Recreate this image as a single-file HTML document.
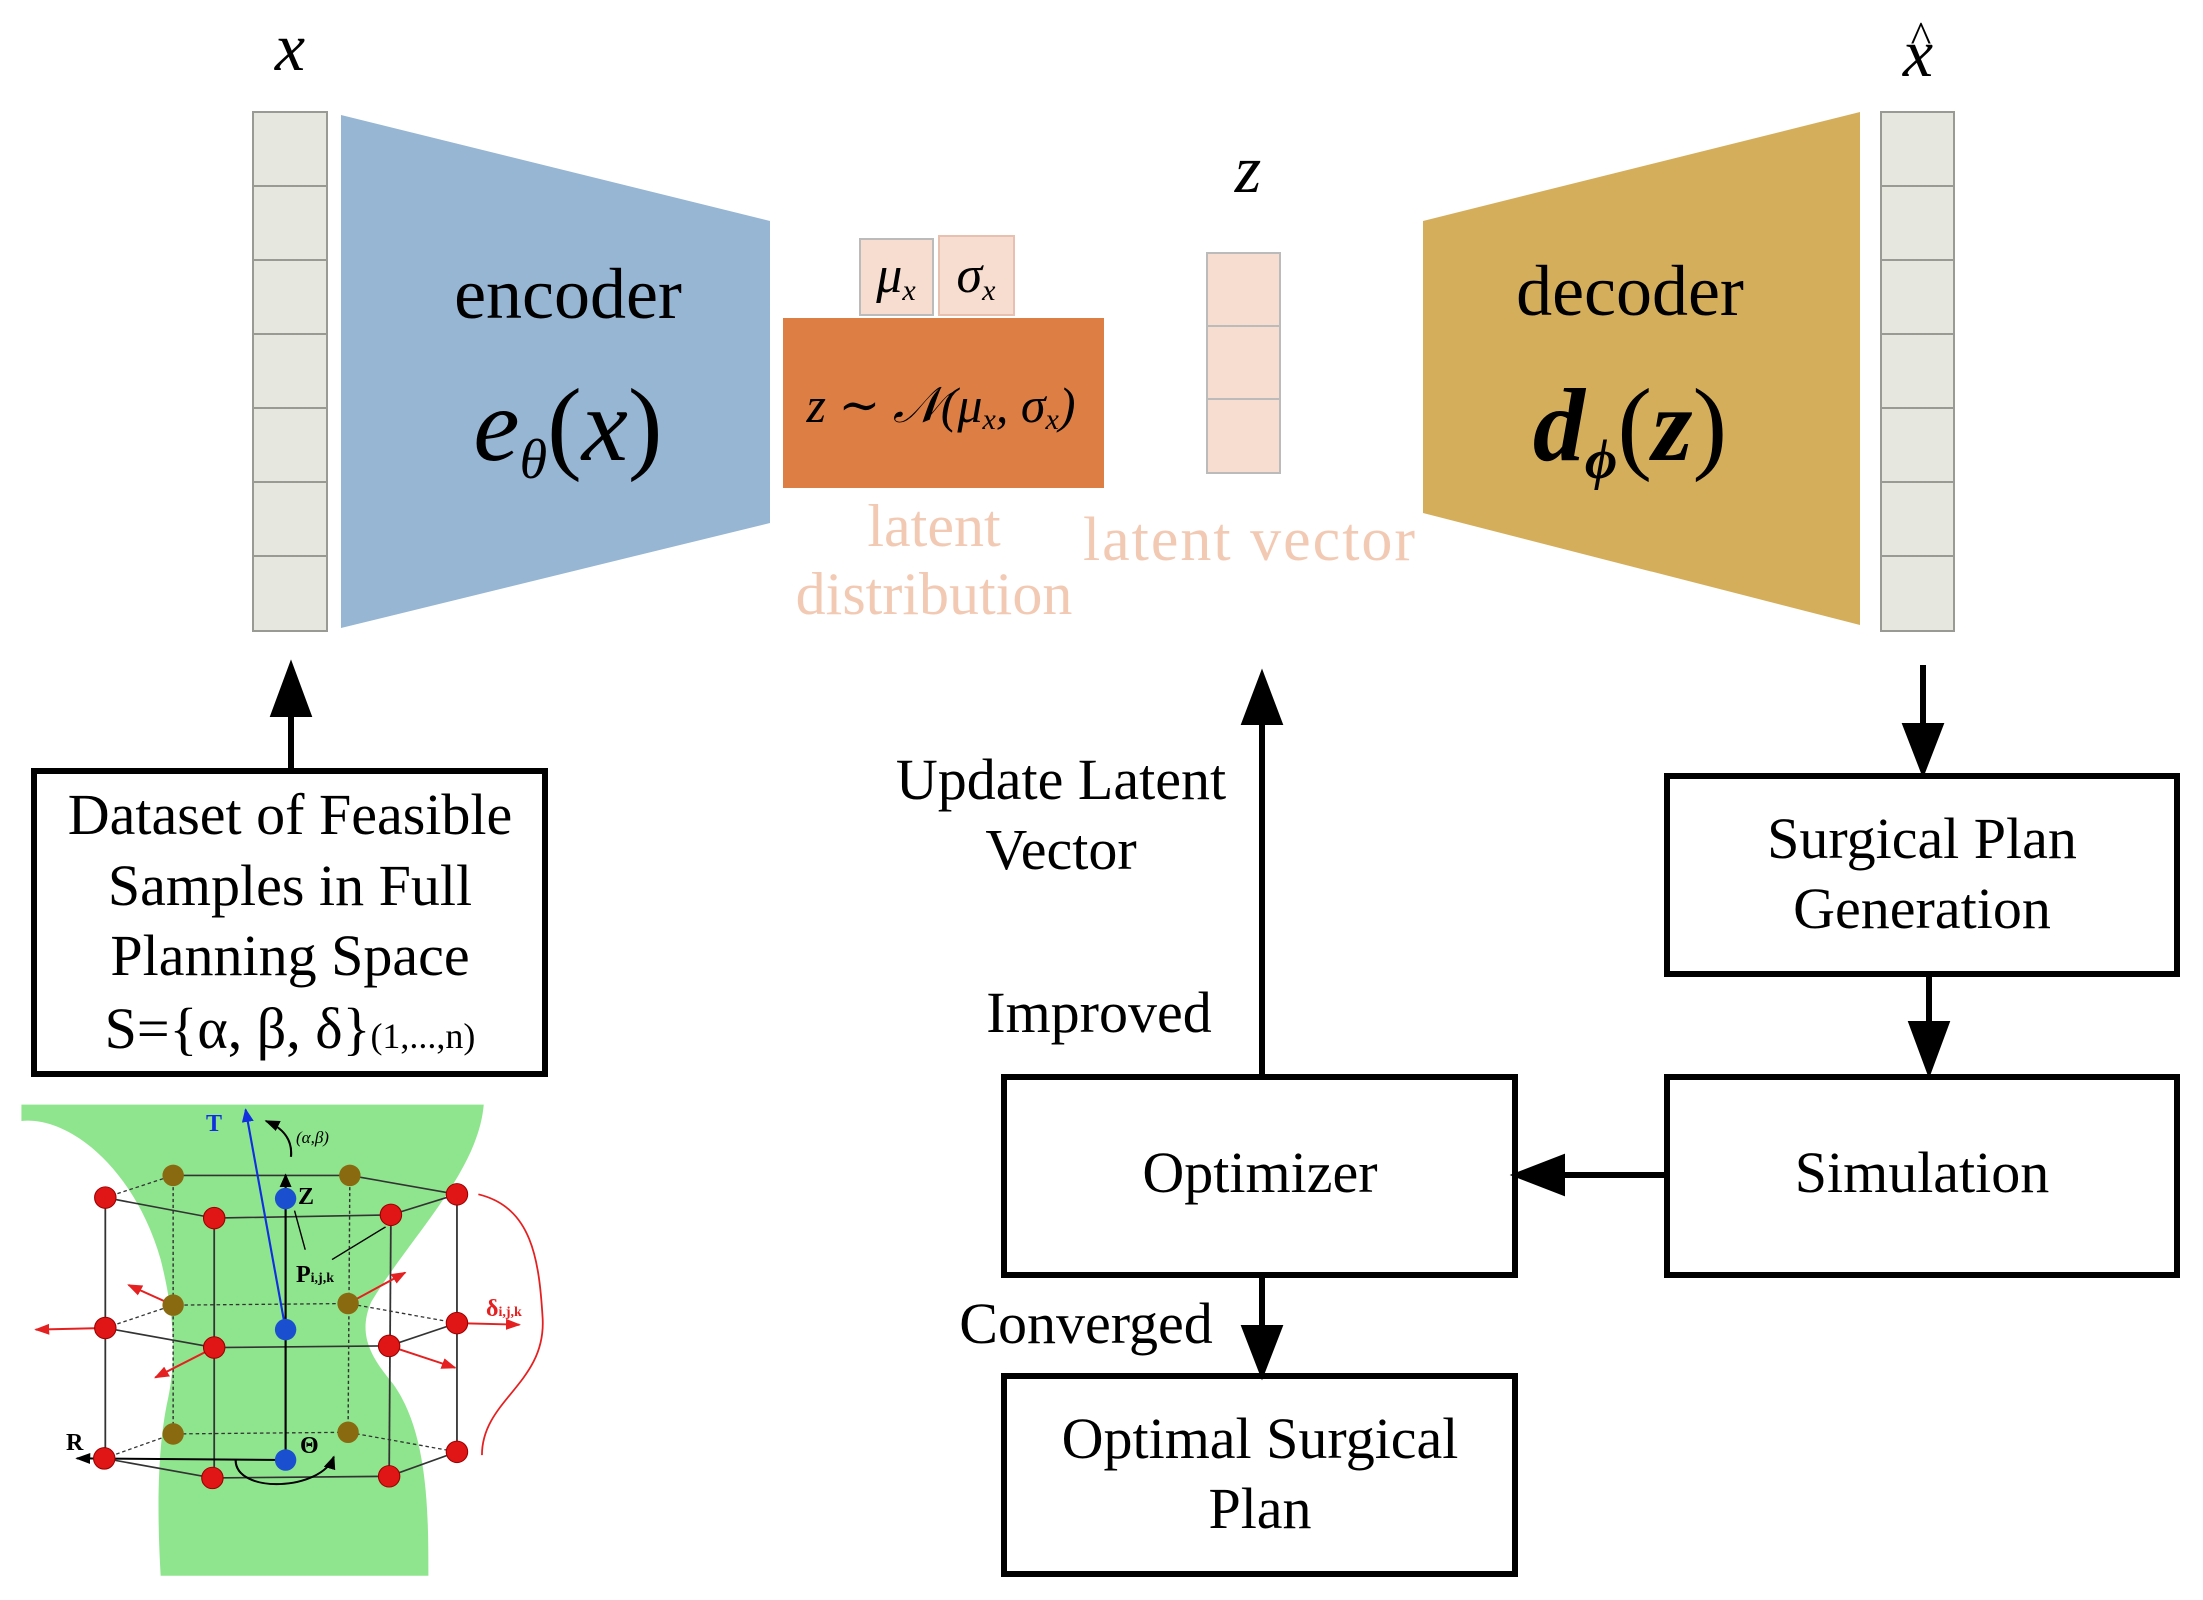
<!DOCTYPE html>
<html><head><meta charset="utf-8"><style>
html,body{margin:0;padding:0;background:#fff}
svg{display:block}
text{font-family:"Liberation Serif","DejaVu Serif",serif}
</style></head><body>
<svg width="2203" height="1600" viewBox="0 0 2203 1600" xmlns="http://www.w3.org/2000/svg">
<defs>
<marker id="sa" viewBox="0 0 10 10" refX="9" refY="5" markerWidth="7" markerHeight="7" orient="auto"><path d="M0,1 L10,5 L0,9 z" fill="#000"/></marker>
<marker id="ra" viewBox="0 0 10 10" refX="9" refY="5" markerWidth="7" markerHeight="7" orient="auto"><path d="M0,1 L10,5 L0,9 z" fill="#e52020"/></marker>
<marker id="ba" viewBox="0 0 10 10" refX="9" refY="5" markerWidth="7" markerHeight="7" orient="auto"><path d="M0,1 L10,5 L0,9 z" fill="#1030e0"/></marker>
</defs>

<!-- input column -->
<g fill="#e6e7df" stroke="#9a9a95" stroke-width="2">
<rect x="253" y="112" width="74" height="74"/><rect x="253" y="186" width="74" height="74"/><rect x="253" y="260" width="74" height="74"/><rect x="253" y="334" width="74" height="74"/><rect x="253" y="408" width="74" height="74"/><rect x="253" y="482" width="74" height="74"/><rect x="253" y="556" width="74" height="75"/>
</g>
<text x="290" y="70" font-size="68" font-style="italic" text-anchor="middle">x</text>

<!-- encoder -->
<polygon points="341,115 770,221 770,523 341,628" fill="#96b6d4"/>
<text x="568" y="318" font-size="72" text-anchor="middle">encoder</text>
<text x="568" y="460" font-size="104" text-anchor="middle" font-style="italic">e<tspan font-size="56" dy="18">θ</tspan><tspan dy="-18" font-style="normal">(</tspan>x<tspan font-style="normal">)</tspan></text>

<!-- latent distribution -->
<rect x="860" y="239" width="73" height="76" fill="#f7ddd0" stroke="#bbb" stroke-width="2"/>
<rect x="939" y="236" width="75" height="79" fill="#f7ddd0" stroke="#e8c0b0" stroke-width="2"/>
<text x="896" y="292" font-size="52" font-style="italic" text-anchor="middle">μ<tspan font-size="30" dy="8">x</tspan></text>
<text x="976" y="292" font-size="52" font-style="italic" text-anchor="middle">σ<tspan font-size="30" dy="8">x</tspan></text>
<rect x="783" y="318" width="321" height="170" fill="#dd7e45"/>
<text x="941" y="422" font-size="50" font-style="italic" text-anchor="middle">z ∼ 𝒩(μ<tspan font-size="30" dy="7">x</tspan><tspan dy="-7">, σ</tspan><tspan font-size="30" dy="7">x</tspan><tspan dy="-7">)</tspan></text>
<text x="934" y="546" font-size="60" fill="#f2cab4" text-anchor="middle">latent</text>
<text x="934" y="614" font-size="60" fill="#f2cab4" text-anchor="middle">distribution</text>

<!-- z -->
<text x="1248" y="192" font-size="68" font-style="italic" text-anchor="middle">z</text>
<g fill="#f7ddd0" stroke="#bbb" stroke-width="2">
<rect x="1207" y="253" width="73" height="73"/><rect x="1207" y="326" width="73" height="73"/><rect x="1207" y="399" width="73" height="74"/>
</g>
<text x="1250" y="560" font-size="62" fill="#f2cab4" text-anchor="middle" letter-spacing="2">latent vector</text>

<!-- decoder -->
<polygon points="1423,221 1860,112 1860,625 1423,513" fill="#d5ae5b"/>
<text x="1630" y="315" font-size="72" text-anchor="middle">decoder</text>
<text x="1630" y="460" font-size="104" text-anchor="middle" font-style="italic" font-weight="bold">d<tspan font-size="56" dy="18">ϕ</tspan><tspan dy="-18" font-style="normal" font-weight="normal">(</tspan>z<tspan font-style="normal" font-weight="normal">)</tspan></text>

<!-- output column -->
<g fill="#e6e7df" stroke="#9a9a95" stroke-width="2">
<rect x="1881" y="112" width="73" height="74"/><rect x="1881" y="186" width="73" height="74"/><rect x="1881" y="260" width="73" height="74"/><rect x="1881" y="334" width="73" height="74"/><rect x="1881" y="408" width="73" height="74"/><rect x="1881" y="482" width="73" height="74"/><rect x="1881" y="556" width="73" height="75"/>
</g>
<text x="1918" y="76" font-size="68" font-style="italic" text-anchor="middle">x</text>
<text x="1921" y="52" font-size="44" text-anchor="middle">^</text>

<!-- flow boxes -->
<g fill="none" stroke="#000" stroke-width="6">
<rect x="34" y="771" width="511" height="303"/>
<rect x="1004" y="1077" width="511" height="198"/>
<rect x="1004" y="1376" width="511" height="198"/>
<rect x="1667" y="776" width="510" height="198"/>
<rect x="1667" y="1077" width="510" height="198"/>
</g>
<g font-size="58" text-anchor="middle">
<text x="290" y="834">Dataset of Feasible</text>
<text x="290" y="905">Samples in Full</text>
<text x="290" y="975">Planning Space</text>
<text x="290" y="1048">S={α, β, δ}<tspan font-size="36">(1,...,n)</tspan></text>
<text x="1260" y="1192">Optimizer</text>
<text x="1260" y="1458">Optimal Surgical</text>
<text x="1260" y="1528">Plan</text>
<text x="1922" y="858">Surgical Plan</text>
<text x="1922" y="928">Generation</text>
<text x="1922" y="1192">Simulation</text>
<text x="1061" y="799">Update Latent</text>
<text x="1061" y="869">Vector</text>
<text x="1099" y="1032">Improved</text>
<text x="1086" y="1343">Converged</text>
</g>

<!-- arrows -->
<g stroke="#000" stroke-width="6" fill="#000">
<line x1="291" y1="769" x2="291" y2="712"/><polygon points="274,714 308,714 291,668"/>
<line x1="1262" y1="1075" x2="1262" y2="720"/><polygon points="1245,722 1279,722 1262,677"/>
<line x1="1262" y1="1276" x2="1262" y2="1330"/><polygon points="1245,1328 1279,1328 1262,1372"/>
<line x1="1923" y1="665" x2="1923" y2="728"/><polygon points="1906,726 1940,726 1923,770"/>
<line x1="1929" y1="975" x2="1929" y2="1026"/><polygon points="1912,1024 1946,1024 1929,1070"/>
<line x1="1665" y1="1175" x2="1560" y2="1175"/><polygon points="1562,1158 1562,1192 1518,1175"/>
</g>

<!-- 3D figure -->
<g transform="translate(0,1090) scale(0.357,0.326)">
<path d="M60,45 L1355,45 C1340,250 1150,450 1040,650 C1000,750 1040,820 1100,900 C1200,1050 1200,1300 1200,1490 L450,1490 C440,1300 440,1100 470,950 C500,800 480,650 450,520 C380,250 200,80 60,95 Z" fill="#8fe58e"/>
<g stroke="#333" stroke-width="5" fill="none">
<polyline points="295,330 600,393 1095,383 1280,320"/>
<polyline points="485,262 980,262 1280,320"/>
<polyline points="295,730 600,790 1090,785 1280,715"/>
<polyline points="292,1130 595,1190 1090,1185 1280,1110"/>
<line x1="295" y1="330" x2="295" y2="1130"/><line x1="600" y1="393" x2="600" y2="1190"/>
<line x1="1095" y1="383" x2="1090" y2="1185"/><line x1="1280" y1="320" x2="1280" y2="1110"/>
</g>
<g stroke="#333" stroke-width="4" fill="none" stroke-dasharray="10,8">
<line x1="295" y1="330" x2="485" y2="262"/>
<line x1="485" y1="262" x2="485" y2="1055"/><line x1="980" y1="262" x2="975" y2="1050"/>
<polyline points="295,730 485,660 975,655 1280,715"/>
<polyline points="292,1130 485,1055 975,1050 1280,1110"/>
</g>
<g stroke="#000" stroke-width="6" fill="none">
<line x1="800" y1="1135" x2="800" y2="260" marker-end="url(#sa)"/>
<line x1="800" y1="1135" x2="215" y2="1130" marker-end="url(#sa)"/>
<path d="M660,1135 C660,1240 900,1230 935,1125" marker-end="url(#sa)"/>
<path d="M815,205 C820,150 790,115 745,95" marker-end="url(#sa)"/>
<line x1="825" y1="370" x2="855" y2="490" stroke-width="4"/>
<line x1="1080" y1="420" x2="930" y2="520" stroke-width="4"/>
</g>
<line x1="800" y1="735" x2="688" y2="60" stroke="#1030e0" stroke-width="6" marker-end="url(#ba)"/>
<g stroke="#e52020" stroke-width="6" fill="none">
<line x1="485" y1="660" x2="360" y2="598" marker-end="url(#ra)"/>
<line x1="295" y1="730" x2="100" y2="735" marker-end="url(#ra)"/>
<line x1="600" y1="790" x2="435" y2="882" marker-end="url(#ra)"/>
<line x1="975" y1="655" x2="1135" y2="560" marker-end="url(#ra)"/>
<line x1="1280" y1="715" x2="1455" y2="720" marker-end="url(#ra)"/>
<line x1="1090" y1="785" x2="1275" y2="852" marker-end="url(#ra)"/>
<path d="M1340,320 C1490,360 1510,520 1520,700 C1530,900 1350,950 1350,1120" stroke-width="5"/>
</g>
<g fill="#8a6a10"><ellipse cx="485" cy="262" rx="30" ry="33"/><ellipse cx="980" cy="262" rx="30" ry="33"/><ellipse cx="485" cy="660" rx="30" ry="33"/><ellipse cx="975" cy="655" rx="30" ry="33"/><ellipse cx="485" cy="1055" rx="30" ry="33"/><ellipse cx="975" cy="1050" rx="30" ry="33"/></g>
<g fill="#e01515" stroke="#900" stroke-width="3">
<ellipse cx="295" cy="330" rx="30" ry="33"/><ellipse cx="600" cy="393" rx="30" ry="33"/><ellipse cx="1095" cy="383" rx="30" ry="33"/><ellipse cx="1280" cy="320" rx="30" ry="33"/>
<ellipse cx="295" cy="730" rx="30" ry="33"/><ellipse cx="600" cy="790" rx="30" ry="33"/><ellipse cx="1090" cy="785" rx="30" ry="33"/><ellipse cx="1280" cy="715" rx="30" ry="33"/>
<ellipse cx="292" cy="1130" rx="30" ry="33"/><ellipse cx="595" cy="1190" rx="30" ry="33"/><ellipse cx="1090" cy="1185" rx="30" ry="33"/><ellipse cx="1280" cy="1110" rx="30" ry="33"/>
</g>
<g fill="#1a50d0"><ellipse cx="800" cy="333" rx="30" ry="33"/><ellipse cx="800" cy="735" rx="30" ry="33"/><ellipse cx="800" cy="1135" rx="30" ry="33"/></g>
</g>
<g font-weight="bold">
<text x="214" y="1131" font-size="24" fill="#1030e0" text-anchor="middle">T</text>
<text x="296" y="1143" font-size="17" font-style="italic" font-weight="normal">(α,β)</text>
<text x="298" y="1204" font-size="24">Z</text>
<text x="296" y="1282" font-size="24">P<tspan font-size="14">i,j,k</tspan></text>
<text x="486" y="1316" font-size="24" fill="#e52020">δ<tspan font-size="14">i,j,k</tspan></text>
<text x="66" y="1450" font-size="24">R</text>
<text x="300" y="1453" font-size="24">Θ</text>
</g>
</svg>
</body></html>
